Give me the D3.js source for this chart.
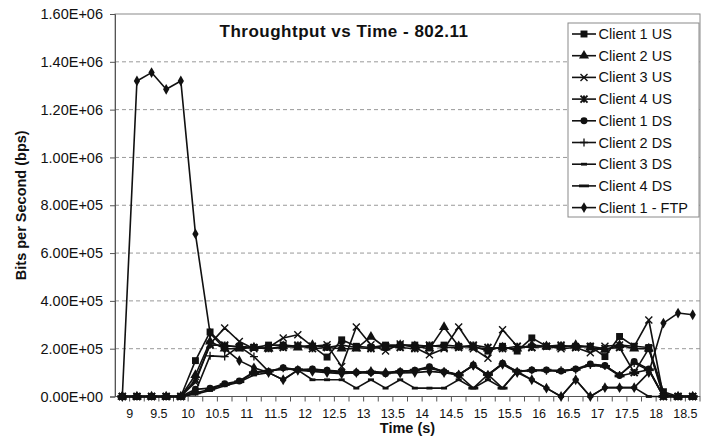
<!DOCTYPE html>
<html>
<head>
<meta charset="utf-8">
<script src="https://cdn.jsdelivr.net/npm/d3@7/dist/d3.min.js"></script>
<style>
  body { margin: 0; background: #fff; }
  text { font-family: Arial, "Liberation Sans", sans-serif; fill: #111; }
</style>
</head>
<body>
<svg id="chart" width="709" height="441"></svg>
<script>
// categories (time in s) and x tick labels
const times = [9, 9.25, 9.5, 9.75, 10, 10.25, 10.5, 10.75, 11, 11.25,
  11.5, 11.75, 12, 12.25, 12.5, 12.75, 13, 13.25, 13.5, 13.75,
  14, 14.25, 14.5, 14.75, 15, 15.25, 15.5, 15.75, 16, 16.25,
  16.5, 16.75, 17, 17.25, 17.5, 17.75, 18, 18.25, 18.5, 18.75];
const xLabels = ['9', '9.5', '10', '10.5', '11', '11.5', '12', '12.5', '13', '13.5',
  '14', '14.5', '15', '15.5', '16', '16.5', '17', '17.5', '18', '18.5'];
const yTicks = [0, 200000, 400000, 600000, 800000, 1000000, 1200000, 1400000, 1600000];

// values in kbps
const client1US = [0, 0, 0, 0, 0, 150, 270, 210, 210, 205, 215, 215, 210, 210, 165, 237, 210, 205, 215, 215,
  215, 210, 215, 210, 210, 190, 210, 190, 245, 210, 210, 210, 210, 167, 251, 210, 205, 20, 0, 0];
const client2US = [0, 0, 0, 0, 0, 90, 230, 200, 200, 205, 200, 210, 205, 215, 205, 200, 200, 250, 205, 215,
  210, 200, 290, 210, 205, 200, 205, 200, 215, 210, 205, 215, 205, 195, 215, 200, 200, 10, 0, 0];
const client3US = [0, 0, 0, 0, 0, 60, 220, 287, 230, 200, 205, 245, 258, 210, 216, 125, 291, 216, 190, 220,
  205, 175, 200, 291, 200, 160, 279, 210, 205, 210, 200, 205, 183, 210, 215, 210, 320, 0, 0, 0];
const client4US = [0, 0, 0, 0, 0, 70, 215, 215, 205, 205, 200, 205, 215, 200, 205, 215, 205, 200, 210, 205,
  200, 215, 205, 205, 215, 205, 200, 210, 205, 210, 215, 205, 210, 200, 205, 100, 200, 0, 0, 0];
const client1DS = [0, 0, 0, 0, 0, 30, 35, 53, 65, 103, 105, 120, 113, 115, 110, 105, 100, 100, 95, 105,
  110, 125, 104, 90, 132, 90, 139, 104, 111, 111, 107, 115, 136, 130, 88, 146, 115, 0, 0, 0];
const client2DS = [0, 0, 0, 0, 0, 20, 170, 167, 210, 167, 105, 118, 110, 112, 108, 102, 102, 98, 100, 106,
  108, 120, 106, 92, 128, 92, 136, 106, 110, 108, 110, 112, 132, 128, 90, 140, 110, 0, 0, 0];
const client3DS = [0, 0, 0, 0, 0, 10, 25, 45, 60, 90, 100, 70, 110, 70, 70, 70, 35, 70, 35, 70,
  35, 35, 35, 70, 35, 70, 35, 105, 70, 35, 0, 70, 0, 37, 37, 37, 0, 0, 0, 0];
const client4DS = [0, 0, 0, 0, 0, 15, 30, 50, 62, 100, 106, 115, 112, 110, 105, 100, 100, 102, 98, 104,
  110, 118, 104, 90, 35, 92, 35, 106, 108, 110, 104, 114, 130, 126, 86, 99, 112, 0, 0, 0];
const client1FTP = [0, 1320, 1355, 1285, 1320, 680, 265, 200, 150, 120, 100, 70, 110, 105, 100, 95, 100, 105, 100, 98,
  100, 105, 100, 90, 130, 88, 135, 100, 70, 35, 0, 70, 0, 37, 37, 37, 100, 307, 349, 342];

const seriesNames = ['Client 1 US', 'Client 2 US', 'Client 3 US', 'Client 4 US',
  'Client 1 DS', 'Client 2 DS', 'Client 3 DS', 'Client 4 DS', 'Client 1 - FTP'];
const seriesValues = [client1US, client2US, client3US, client4US,
  client1DS, client2DS, client3DS, client4DS, client1FTP];
const markerTypes = ['square', 'triangle', 'x', 'xbox', 'circle', 'plus', 'dash', 'longdash', 'diamond'];

const series = seriesNames.map((name, i) => ({
  name: name,
  marker: markerTypes[i],
  values: seriesValues[i].map((v, j) => ({ t: times[j], v: v * 1000 }))
}));

const plot = { left: 115, right: 700, top: 14, bottom: 396.5 };
const svg = d3.select('#chart');
const ink = '#111';

// scales
const x = d3.scaleBand()
    .domain(times)
    .range([plot.left, plot.right])
    .padding(0);
const cx = t => x(t) + x.bandwidth() / 2;

const y = d3.scaleLinear()
    .domain([0, 1600000])
    .range([plot.bottom, plot.top]);

// Excel style 0.00E+00
function sci(d) {
  const parts = d.toExponential(2).split('e');
  const e = +parts[1];
  return parts[0] + 'E' + (e < 0 ? '-' : '+') + String(Math.abs(e)).padStart(2, '0');
}

// gridlines
svg.append('g')
  .selectAll('line')
  .data(yTicks.filter(d => d > 0 && d < 1600000))
  .enter().append('line')
    .attr('x1', plot.left).attr('x2', plot.right)
    .attr('y1', d => y(d)).attr('y2', d => y(d))
    .attr('stroke', '#999')
    .attr('stroke-dasharray', '4,3');

// plot frame
svg.append('rect')
    .attr('x', plot.left).attr('y', plot.top)
    .attr('width', plot.right - plot.left)
    .attr('height', plot.bottom - plot.top)
    .attr('fill', 'none')
    .attr('stroke', '#8a8a8a');

// Y axis
const yAxis = d3.axisLeft(y)
    .tickValues(yTicks)
    .tickFormat(sci)
    .tickSize(5)
    .tickPadding(7);
const gy = svg.append('g')
    .attr('transform', 'translate(' + plot.left + ',0)')
    .call(yAxis);
gy.select('.domain').attr('stroke', '#555');
gy.selectAll('.tick line').attr('stroke', '#555');
gy.selectAll('.tick text')
    .attr('font-size', '14.5px')
    .attr('font-family', 'Arial, "Liberation Sans", sans-serif')
    .attr('fill', '#222');

// X axis: labels at every other category centre, ticks at category edges
const xAxis = d3.axisBottom(x)
    .tickValues(times.filter((t, i) => i % 2 === 0))
    .tickFormat((t, i) => xLabels[i])
    .tickSize(0)
    .tickPadding(13);
const gx = svg.append('g')
    .attr('transform', 'translate(' + x.bandwidth() / 2 + ',' + plot.bottom + ')')
    .call(xAxis);
gx.select('.domain').remove();
gx.selectAll('.tick text')
    .attr('font-size', '12.5px')
    .attr('font-family', 'Arial, "Liberation Sans", sans-serif')
    .attr('fill', '#222');

svg.append('line')
    .attr('x1', plot.left).attr('x2', plot.right)
    .attr('y1', plot.bottom).attr('y2', plot.bottom)
    .attr('stroke', '#555');
svg.append('g')
  .selectAll('line')
  .data(times.slice(1))
  .enter().append('line')
    .attr('x1', d => x(d)).attr('x2', d => x(d))
    .attr('y1', plot.bottom).attr('y2', plot.bottom + 5)
    .attr('stroke', '#555');
svg.append('line')
    .attr('x1', plot.right).attr('x2', plot.right)
    .attr('y1', plot.bottom).attr('y2', plot.bottom + 5)
    .attr('stroke', '#555');

// marker shapes
function markerInfo(type) {
  switch (type) {
    case 'square': return { d: d3.symbol(d3.symbolSquare, 48)(), fill: ink, sw: 0 };
    case 'triangle': return { d: d3.symbol(d3.symbolTriangle, 44)(), fill: ink, sw: 0 };
    case 'circle': return { d: d3.symbol(d3.symbolCircle, 38)(), fill: ink, sw: 0 };
    case 'diamond': return { d: d3.symbol(d3.symbolDiamond, 34)(), fill: ink, sw: 0 };
    case 'x': return { d: 'M-3.5,-3.5L3.5,3.5M-3.5,3.5L3.5,-3.5', fill: 'none', sw: 1.4 };
    case 'xbox': return { d: 'M-3.5,-3.5L3.5,3.5M-3.5,3.5L3.5,-3.5M0,-3.5L0,3.5', fill: 'none', sw: 1.9 };
    case 'plus': return { d: 'M-4,0L4,0M0,-4L0,4', fill: 'none', sw: 1.3 };
    case 'dash': return { d: 'M-3,0L3,0', fill: 'none', sw: 2.8 };
    case 'longdash': return { d: 'M-5,0L5,0', fill: 'none', sw: 2.8 };
  }
}

const line = d3.line()
    .x(d => cx(d.t))
    .y(d => y(d.v));

// lines
svg.append('g')
  .selectAll('path')
  .data(series)
  .enter().append('path')
    .attr('d', d => line(d.values))
    .attr('fill', 'none')
    .attr('stroke', ink)
    .attr('stroke-width', 1.6)
    .attr('stroke-linejoin', 'round');

// markers
series.forEach(function (s) {
  const m = markerInfo(s.marker);
  svg.append('g')
    .selectAll('path')
    .data(s.values)
    .enter().append('path')
      .attr('d', m.d)
      .attr('transform', d => 'translate(' + cx(d.t) + ',' + y(d.v) + ')')
      .attr('fill', m.fill)
      .attr('stroke', ink)
      .attr('stroke-width', m.sw);
});

// title
svg.append('text')
    .attr('x', 344)
    .attr('y', 37)
    .attr('text-anchor', 'middle')
    .attr('font-size', '17px')
    .attr('letter-spacing', '0.5px')
    .attr('font-weight', 'bold')
    .text('Throughtput vs Time - 802.11');

// axis titles
svg.append('text')
    .attr('x', (plot.left + plot.right) / 2)
    .attr('y', 433)
    .attr('text-anchor', 'middle')
    .attr('font-size', '14.5px')
    .attr('font-weight', 'bold')
    .text('Time (s)');

svg.append('text')
    .attr('transform', 'translate(26,' + (plot.top + plot.bottom) / 2 + ') rotate(-90)')
    .attr('text-anchor', 'middle')
    .attr('font-size', '14.5px')
    .attr('font-weight', 'bold')
    .text('Bits per Second (bps)');

// legend
const legend = svg.append('g').attr('transform', 'translate(568,23)');
legend.append('rect')
    .attr('width', 131)
    .attr('height', 194)
    .attr('fill', '#fff')
    .attr('stroke', '#8a8a8a');
const items = legend.selectAll('.item')
  .data(series)
  .enter().append('g')
    .attr('class', 'item')
    .attr('transform', (d, i) => 'translate(0,' + (11 + i * 21.7) + ')');
items.append('line')
    .attr('x1', 4).attr('x2', 28)
    .attr('stroke', ink)
    .attr('stroke-width', 1.6);
items.append('path')
    .attr('transform', 'translate(16,0)')
    .attr('d', d => markerInfo(d.marker).d)
    .attr('fill', d => markerInfo(d.marker).fill)
    .attr('stroke', ink)
    .attr('stroke-width', d => markerInfo(d.marker).sw);
items.append('text')
    .attr('x', 30.5)
    .attr('y', 5)
    .attr('font-size', '14.5px')
    .text(d => d.name);
</script>
</body>
</html>
